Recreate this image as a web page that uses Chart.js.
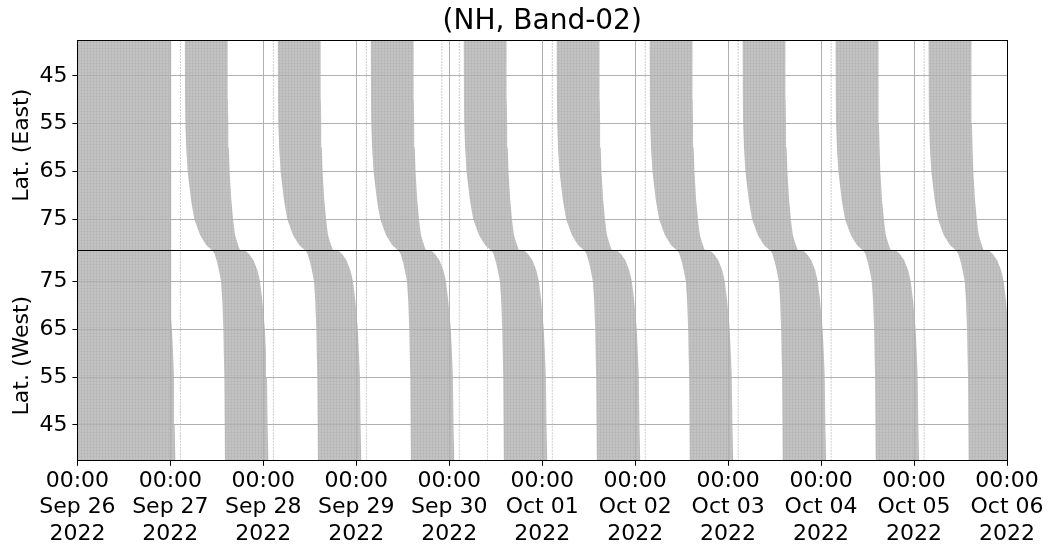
<!DOCTYPE html>
<html>
<head>
<meta charset="utf-8">
<script src="https://cdn.jsdelivr.net/npm/chart.js@4.4.1/dist/chart.umd.min.js"></script>
<style>
    html, body { margin: 0; padding: 0; background: #fff; }
    #wrap { width: 1053px; height: 556px; }
</style>
</head>
<body>
<div id="wrap"><canvas id="myChart" width="1053" height="556"></canvas></div>
<script>
// x axis: one tick per day, x values are hours after Sep 26 00:00.
const dayLabels = ['Sep 26', 'Sep 27', 'Sep 28', 'Sep 29', 'Sep 30', 'Oct 01', 'Oct 02', 'Oct 03', 'Oct 04', 'Oct 05', 'Oct 06'];
const latTicks = [45, 55, 65, 75];
const latMin = 37.5;
const latMax = 81.5;

// One pass per day.
const passDays = ['Sep 26', 'Sep 27', 'Sep 28', 'Sep 29', 'Sep 30', 'Oct 01', 'Oct 02', 'Oct 03', 'Oct 04', 'Oct 05'];

// Swath edges, in hours after 00:00 of the pass day, for each latitude.
const eastLat = [37.5, 50, 55, 60, 65, 71, 75, 78.3, 80.4, 81.5];
const eastLeft = [3.74, 3.8, 3.87, 4.1, 4.46, 5.34, 6.19, 7.66, 9.29, 10.84];
const eastRight = [14.8, 14.86, 14.95, 15.1, 15.3, 15.75, 16.2, 16.7, 17.5, 18.0];
const westLat = [81.5, 80.8, 79.4, 77.3, 75, 71, 65, 60, 55, 45, 37.5];
const westLeft = [10.9, 11.4, 11.95, 12.56, 13.08, 13.42, 13.68, 13.8, 13.94, 14.1, 14.1];
const westRight = [19.3, 20.3, 21.5, 22.5, 23.15, 23.74, 24.4, 24.7, 24.95, 25.1, 25.3];

// Full coverage block at the start of the record (hours).
const blockStart = 0;
const blockEnd = 24.2;

// Thin lines of empty columns (hours).
const gapLines = [26.6, 50.6, 74.6, 94.1, 98.6, 105.9, 122.6, 146.6, 170.6, 194.6, 218.6];

const canvas = document.getElementById('myChart');
const ctx = canvas.getContext('2d');

// Grey fill with the faint cell texture.
function makeCellPattern() {
    const c = document.createElement('canvas');
    c.width = 3;
    c.height = 3;
    const g = c.getContext('2d');
    g.fillStyle = '#c3c3c3';
    g.fillRect(0, 0, 3, 3);
    g.fillStyle = '#bababa';
    g.fillRect(0, 0, 1, 3);
    g.fillStyle = 'rgba(175,175,175,0.35)';
    g.fillRect(0, 0, 3, 1);
    return ctx.createPattern(c, 'repeat');
}
const cellPattern = makeCellPattern();

function swath(points, axis) {
    return {
        data: points,
        yAxisID: axis,
        fill: 'shape',
        backgroundColor: cellPattern,
        borderColor: 'rgba(0,0,0,0)',
        borderWidth: 0,
        pointRadius: 0,
        order: 0
    };
}

function edgePolygon(lats, left, right, start) {
    const down = lats.map((lat, i) => ({x: start + left[i], y: lat}));
    const up = lats.map((lat, i) => ({x: start + right[i], y: lat})).reverse();
    return down.concat(up);
}

const datasets = [];

// Start block, both panels.
const block = [
    {x: blockStart, y: latMin}, {x: blockStart, y: latMax},
    {x: blockEnd, y: latMax}, {x: blockEnd, y: latMin}
];
datasets.push(swath(block, 'yE'));
datasets.push(swath(block, 'yW'));

passDays.forEach(day => {
    const start = dayLabels.indexOf(day) * 24;
    datasets.push(swath(edgePolygon(eastLat, eastLeft, eastRight, start), 'yE'));
    datasets.push(swath(edgePolygon(westLat, westLeft, westRight, start), 'yW'));
});

gapLines.forEach(h => {
    ['yE', 'yW'].forEach(axis => {
        datasets.push({
            data: [{x: h, y: latMin}, {x: h, y: latMax}],
            yAxisID: axis,
            fill: false,
            borderColor: '#cdcdcd',
            borderWidth: 1,
            borderDash: [2, 1],
            pointRadius: 0,
            order: 1
        });
    });
});

const isEdge = v => v === latMin || v === latMax;

function latAxis(title, reverse, weight) {
    return {
        type: 'linear',
        position: 'left',
        stack: 'lat',
        stackWeight: 1,
        weight: weight,
        reverse: reverse,
        min: latMin,
        max: latMax,
        afterBuildTicks: axis => {
            axis.ticks = [latMin].concat(latTicks, [latMax]).map(v => ({value: v}));
        },
        ticks: {
            autoSkip: false,
            font: {size: 22},
            color: '#000',
            padding: 5,
            callback: v => latTicks.includes(v) ? String(v) : ''
        },
        grid: {
            z: 1,
            lineWidth: 1,
            tickLength: 5,
            color: c => (c.tick && isEdge(c.tick.value)) ? '#000' : '#b0b0b0',
            tickColor: c => (c.tick && isEdge(c.tick.value)) ? 'rgba(0,0,0,0)' : '#000'
        },
        border: {display: true, color: '#000', width: 1, z: 2},
        title: {
            display: true,
            text: title,
            color: '#000',
            font: {size: 22},
            padding: {top: 6, bottom: -1}
        }
    };
}

Chart.defaults.font.family = "'DejaVu Sans', sans-serif";

const chart = new Chart(ctx, {
    type: 'line',
    data: {datasets: datasets},
    options: {
        responsive: false,
        animation: false,
        events: [],
        layout: {padding: {left: 3, right: 46, top: 0, bottom: 7}},
        elements: {line: {tension: 0}},
        plugins: {
            legend: {display: false},
            tooltip: {enabled: false},
            title: {
                display: true,
                fullSize: false,
                text: '(NH, Band-02)',
                color: '#000',
                font: {size: 28, weight: 'normal'},
                padding: {top: 5, bottom: 1.4}
            }
        },
        scales: {
            x: {
                type: 'linear',
                min: 0,
                max: 240,
                ticks: {
                    stepSize: 24,
                    autoSkip: false,
                    maxRotation: 0,
                    color: '#000',
                    font: {size: 22},
                    padding: 2,
                    callback: v => ['00:00', dayLabels[Math.round(v / 24)], '2022']
                },
                grid: {
                    z: 1,
                    lineWidth: 1,
                    tickLength: 5,
                    color: c => (c.tick && c.tick.value === 240) ? '#000' : '#b0b0b0',
                    tickColor: '#000'
                },
                border: {display: true, color: '#000', width: 1, z: 2}
            },
            yE: latAxis('Lat. (East)', true, 2),
            yW: latAxis('Lat. (West)', false, 1)
        }
    }
});
</script>
</body>
</html>
